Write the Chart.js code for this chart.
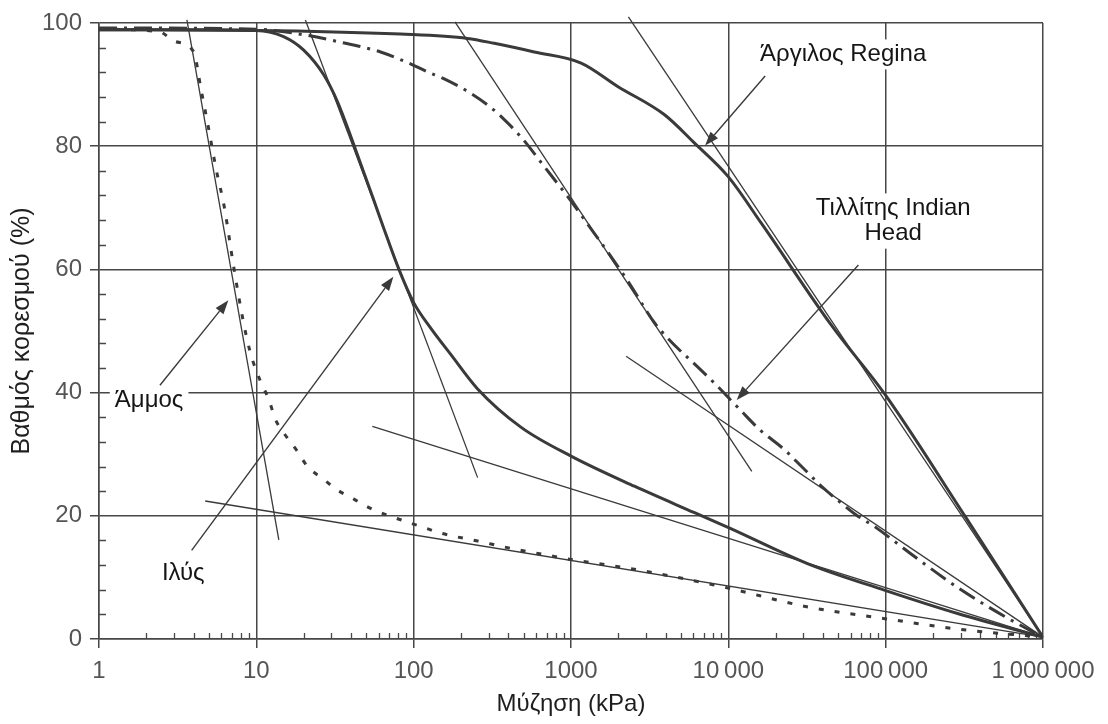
<!DOCTYPE html>
<html>
<head>
<meta charset="utf-8">
<script src="https://cdn.jsdelivr.net/npm/chart.js@4.4.1/dist/chart.umd.min.js"></script>
<style>
  html, body { margin: 0; padding: 0; background: #fff; }
  canvas { display: block; }
</style>
</head>
<body>
<canvas id="chart" width="1108" height="724"></canvas>
<script>
// Axis ticks
var xTickValues = [1, 10, 100, 1000, 10000, 100000, 1000000];
var xTickLabels = ['1', '10', '100', '1000', '10\u2009000', '100\u2009000', '1\u2009000\u2009000'];

// Άμμος (dotted)
var sandX = [1, 2.4, 3.05, 4.0, 4.44, 4.97, 5.56, 6.25, 7.17, 8.3, 9.16, 10.6, 12, 13.2, 14.9, 18.2, 21, 26.8, 32.7, 41.7, 53.2, 68, 91, 116, 148, 255, 436, 783, 1000, 2300, 4130, 9480, 32100, 99000, 290000, 1000000];
var sandY = [99, 98.6, 97, 95.3, 89.4, 82.9, 76.2, 70.2, 60.5, 51.3, 46.5, 41.9, 38.9, 35.7, 33.5, 30.5, 28.1, 25.9, 24.2, 22.7, 21.2, 20.1, 19.0, 18.1, 17.2, 15.9, 14.6, 13.4, 12.9, 11.5, 10.3, 8.4, 5.2, 3.3, 1.6, 0.3];

// Ιλύς (solid)
var siltX = [1, 5, 10, 14.9, 20, 26.8, 32.7, 41.7, 55.9, 64.7, 80.6, 100, 128, 172, 255, 480, 1000, 2530, 6100, 10200, 32100, 99000, 290000, 1000000];
var siltY = [98.9, 98.9, 98.8, 97.8, 95.6, 91.6, 87.3, 80.2, 71.2, 66.6, 60, 54.6, 50.5, 46.2, 40.6, 34.4, 29.7, 24.8, 20.5, 18.0, 12.2, 7.9, 4.1, 0.3];

// Τιλλίτης Indian Head (dash-dot)
var tillX = [1, 10, 21, 32.7, 61.6, 89, 122, 160, 220, 309, 367, 481, 676, 953, 1280, 1715, 2300, 3400, 4130, 6730, 8180, 12100, 15800, 22800, 29200, 39100, 52500, 65300, 85500, 154000, 305000, 604000, 1000000];
var tillY = [99.2, 99, 98, 97, 95.3, 93.7, 92.1, 90.8, 88.9, 86.3, 84.6, 81.5, 76.7, 71.8, 67.3, 62.8, 58.1, 51.3, 48.8, 43.6, 41.5, 37.0, 34.0, 30.7, 28.0, 24.8, 22.0, 20.1, 18.2, 13.3, 7.9, 3.3, 0.3];

// Άργιλος Regina (solid)
var regX = [1, 10, 82.6, 220, 325, 584, 1160, 1980, 3930, 6100, 9950, 16200, 45300, 99000, 320000, 1000000];
var regY = [98.9, 98.8, 98.2, 97.5, 96.7, 95.3, 93.5, 89.7, 85.1, 80.5, 75.1, 67.5, 50.9, 39.7, 19.9, 0.3];

// Straight construction lines, [x1, x2] and [y1, y2]
var tanX = [[3.62, 13.9], [4.73, 1000000], [20.5, 255], [54.6, 1000000], [183, 14100], [2240, 1000000], [2317, 1000000]];
var tanY = [[100.5, 16.1], [22.4, 0.3], [100.5, 26.2], [34.5, 0.3], [100.2, 27.2], [45.9, 0.3], [101, 0.3]];

// Labels and arrows
var noteText = ['Άμμος', 'Ιλύς', 'Άργιλος Regina', 'Τιλλίτης Indian', 'Head'];
var noteX = [1.26, 2.51, 15900, 111700, 111700];
var noteY = [38.8, 10.7, 94.9, 69.9, 65.8];
var noteAlign = ['left', 'left', 'left', 'center', 'center'];
var arrowFrom = [[2.44, 41.2], [3.88, 14.4], [17140, 91.4], [67100, 60.7]];
var arrowTo = [[6.64, 55.0], [74.3, 58.8], [7120, 80.1], [11300, 38.8]];

var FONT = '"Liberation Sans", Arial, sans-serif';
var gridColor = '#474747';
var lineColor = '#3a3a3a';

function pts(xs, ys) {
  return xs.map(function (x, i) { return { x: x, y: ys[i] }; });
}

var decorations = {
  id: 'decorations',
  beforeDatasetsDraw: function (chart) {
    var ctx = chart.ctx, xs = chart.scales.x, ys = chart.scales.y;
    ctx.save();
    // minor ticks, pointing into the plot
    ctx.strokeStyle = gridColor;
    ctx.lineWidth = 1.3;
    ctx.beginPath();
    for (var d = 1; d < 1000000; d *= 10) {
      for (var k = 2; k < 10; k++) {
        var px = Math.round(xs.getPixelForValue(k * d)) + 0.5;
        ctx.moveTo(px, ys.bottom);
        ctx.lineTo(px, ys.bottom - 6);
      }
    }
    for (var v = 4; v < 100; v += 4) {
      if (v % 20 === 0) continue;
      var py = Math.round(ys.getPixelForValue(v)) + 0.5;
      ctx.moveTo(xs.left, py);
      ctx.lineTo(xs.left + 7, py);
    }
    ctx.stroke();

    // white boxes behind the labels
    ctx.font = '24px ' + FONT;
    ctx.fillStyle = '#fff';
    noteText.forEach(function (t, i) {
      var w = ctx.measureText(t).width;
      var x = xs.getPixelForValue(noteX[i]);
      var y = ys.getPixelForValue(noteY[i]);
      var left = noteAlign[i] === 'center' ? x - w / 2 : x;
      ctx.fillRect(left - 5, y - 15, w + 10, 30);
    });
    ctx.restore();
  },
  afterDatasetsDraw: function (chart) {
    var ctx = chart.ctx, xs = chart.scales.x, ys = chart.scales.y;
    ctx.save();
    ctx.font = '24px ' + FONT;
    ctx.fillStyle = '#151515';
    ctx.textBaseline = 'middle';
    noteText.forEach(function (t, i) {
      ctx.textAlign = noteAlign[i];
      ctx.fillText(t, xs.getPixelForValue(noteX[i]), ys.getPixelForValue(noteY[i]));
    });

    // arrows
    ctx.strokeStyle = lineColor;
    ctx.fillStyle = lineColor;
    ctx.lineWidth = 1.4;
    arrowFrom.forEach(function (f, i) {
      var x1 = xs.getPixelForValue(f[0]), y1 = ys.getPixelForValue(f[1]);
      var x2 = xs.getPixelForValue(arrowTo[i][0]), y2 = ys.getPixelForValue(arrowTo[i][1]);
      var a = Math.atan2(y2 - y1, x2 - x1);
      var len = 14, half = 5;
      var bx = x2 - len * Math.cos(a), by = y2 - len * Math.sin(a);
      ctx.beginPath();
      ctx.moveTo(x1, y1);
      ctx.lineTo(bx, by);
      ctx.stroke();
      ctx.beginPath();
      ctx.moveTo(x2, y2);
      ctx.lineTo(bx + half * Math.sin(a), by - half * Math.cos(a));
      ctx.lineTo(bx - half * Math.sin(a), by + half * Math.cos(a));
      ctx.closePath();
      ctx.fill();
    });
    ctx.restore();
  }
};

var datasets = [
  { data: pts(sandX, sandY), borderColor: lineColor, borderWidth: 3, borderDash: [5, 11], cubicInterpolationMode: 'monotone' },
  { data: pts(siltX, siltY), borderColor: lineColor, borderWidth: 3, cubicInterpolationMode: 'monotone' },
  { data: pts(tillX, tillY), borderColor: lineColor, borderWidth: 3, borderDash: [18, 7, 3, 7], cubicInterpolationMode: 'monotone' },
  { data: pts(regX, regY), borderColor: lineColor, borderWidth: 3, cubicInterpolationMode: 'monotone' }
];
tanX.forEach(function (xx, i) {
  datasets.push({ data: pts(xx, tanY[i]), borderColor: lineColor, borderWidth: 1.3, clip: false });
});

new Chart(document.getElementById('chart'), {
  type: 'line',
  data: { datasets: datasets },
  plugins: [decorations],
  options: {
    responsive: false,
    animation: false,
    layout: { padding: { left: 0, top: 23, right: 65, bottom: 0 } },
    elements: { point: { radius: 0 }, line: { fill: false } },
    plugins: { legend: { display: false }, tooltip: { enabled: false } },
    scales: {
      x: {
        type: 'logarithmic',
        min: 1,
        max: 1000000,
        afterBuildTicks: function (s) {
          s.ticks = xTickValues.map(function (v) { return { value: v }; });
        },
        afterFit: function (s) {
          s.height = 85;
          s.paddingLeft = 0;
          s.paddingRight = 0;
        },
        grid: { color: gridColor, lineWidth: 1.5, tickLength: 9 },
        border: { color: gridColor, width: 1.5 },
        ticks: {
          autoSkip: false,
          maxRotation: 0,
          padding: 9,
          color: '#555',
          font: { family: FONT, size: 24 },
          callback: function (v, i) { return xTickLabels[i]; }
        },
        title: {
          display: true,
          text: 'Μύζηση (kPa)',
          color: '#1e1e1e',
          font: { family: FONT, size: 24 },
          padding: { top: 0, bottom: 5 }
        }
      },
      y: {
        min: 0,
        max: 100,
        afterFit: function (s) {
          s.width = 99;
          s.paddingTop = 0;
          s.paddingBottom = 0;
        },
        grid: { color: gridColor, lineWidth: 1.5, tickLength: 9 },
        border: { color: gridColor, width: 1.5 },
        ticks: {
          stepSize: 20,
          padding: 8,
          color: '#555',
          font: { family: FONT, size: 24 }
        },
        title: {
          display: true,
          text: 'Βαθμός κορεσμού (%)',
          color: '#1e1e1e',
          font: { family: FONT, size: 25 },
          padding: { top: 7, bottom: 0 }
        }
      }
    }
  }
});
</script>
</body>
</html>
